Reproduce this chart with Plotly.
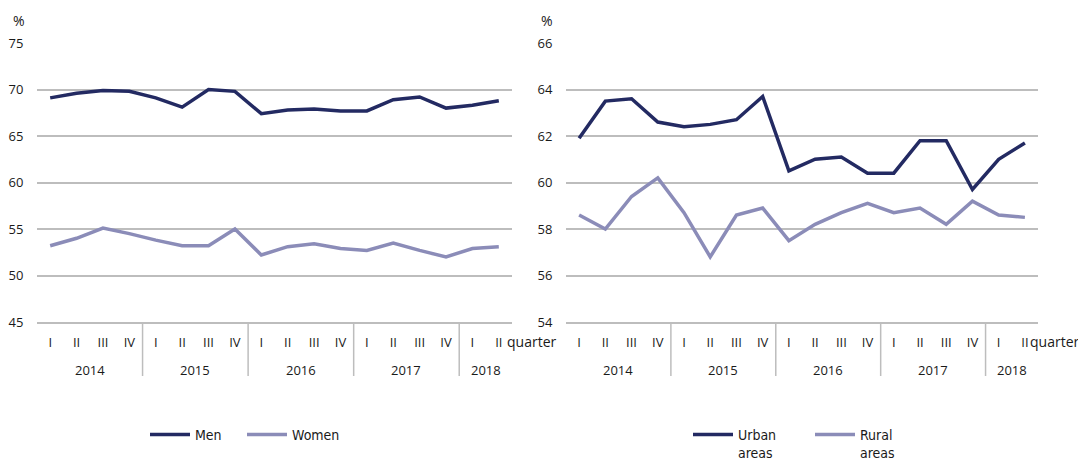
import plotly.graph_objects as go

quarters = ["I", "II", "III", "IV"] * 4 + ["I", "II"]
years = ["2014", "2015", "2016", "2017", "2018"]
year_sizes = [4, 4, 4, 4, 2]

men = [69.1, 69.6, 69.9, 69.8, 69.1, 68.1, 70.0, 69.8, 67.4, 67.8, 67.9, 67.7,
       67.7, 68.9, 69.2, 68.0, 68.3, 68.8]
women = [53.2, 54.0, 55.1, 54.5, 53.8, 53.2, 53.2, 55.0, 52.2, 53.1, 53.4, 52.9,
         52.7, 53.5, 52.7, 52.0, 52.9, 53.1]
urban = [61.9, 63.5, 63.6, 62.6, 62.4, 62.5, 62.7, 63.7, 60.5, 61.0, 61.1, 60.4,
         60.4, 61.8, 61.8, 59.7, 61.0, 61.7]
rural = [58.6, 58.0, 59.4, 60.2, 58.7, 56.8, 58.6, 58.9, 57.5, 58.2, 58.7, 59.1,
         58.7, 58.9, 58.2, 59.2, 58.6, 58.5]

DARK = "#232a62"
LIGHT = "#8b8cb8"
GRID = "#bdbdbd"
TXT = "#1a1a1a"
FONT = "Open Sans"
LEGFONT = "DejaVu Sans Condensed, Open Sans"

# page body has an 8px margin; figure is sized to fit the window
W, H = 1078, 452
OFF = 8


def fx(px):
    return (px - OFF) / W


def fy(py):
    return (H - (py - OFF)) / H


idx = list(range(len(quarters)))

fig = go.Figure()
fig.add_trace(go.Scatter(x=idx, y=men, mode="lines", name="Men",
                         line=dict(color=DARK, width=3.5), xaxis="x", yaxis="y",
                         legend="legend"))
fig.add_trace(go.Scatter(x=idx, y=women, mode="lines", name="Women",
                         line=dict(color=LIGHT, width=3.5), xaxis="x", yaxis="y",
                         legend="legend2"))
fig.add_trace(go.Scatter(x=idx, y=urban, mode="lines", name="Urban<br>areas",
                         line=dict(color=DARK, width=3.5), xaxis="x2", yaxis="y2",
                         legend="legend3"))
fig.add_trace(go.Scatter(x=idx, y=rural, mode="lines", name="Rural<br>areas",
                         line=dict(color=LIGHT, width=3.5), xaxis="x2", yaxis="y2",
                         legend="legend4"))

ydom = [fy(322), fy(43)]
xcommon = dict(range=[-0.5, len(quarters) - 0.5], tickvals=idx, ticktext=quarters,
               showgrid=False, zeroline=False, showline=True, linecolor=GRID,
               linewidth=1.5, ticks="outside", ticklen=8, tickcolor="rgba(0,0,0,0)",
               tickfont=dict(family=FONT, size=13, color=TXT), fixedrange=True,
               automargin=False)
ycommon = dict(showgrid=True, gridcolor=GRID, gridwidth=1.5, zeroline=False,
               showline=False, ticks="outside", ticklen=10, tickcolor="rgba(0,0,0,0)",
               tickfont=dict(family=FONT, size=13, color=TXT), domain=ydom,
               fixedrange=True, automargin=False)


def leg(px):
    return dict(orientation="h", x=fx(px), y=fy(419), xanchor="left", yanchor="top",
                font=dict(family=LEGFONT, size=14, color=TXT), valign="top",
                bgcolor="rgba(0,0,0,0)", itemwidth=40)


fig.update_layout(
    width=W, height=H,
    margin=dict(l=0, r=0, t=0, b=0, autoexpand=False),
    paper_bgcolor="white", plot_bgcolor="white",
    xaxis=dict(domain=[fx(37), fx(512)], anchor="y", **xcommon),
    yaxis=dict(range=[45, 75], tickvals=[45, 50, 55, 60, 65, 70, 75], anchor="x", **ycommon),
    xaxis2=dict(domain=[fx(566), fx(1038)], anchor="y2", **xcommon),
    yaxis2=dict(range=[54, 66], tickvals=[54, 56, 58, 60, 62, 64, 66], anchor="x2", **ycommon),
    legend=leg(145),
    legend2=leg(242),
    legend3=leg(688),
    legend4=leg(810),
    showlegend=True,
)

shapes = []
annotations = []
y_axis_bottom = ydom[0]
sep_bottom = fy(376)
year_label_y = fy(370)
quarter_shift = {"x": -7, "x2": -10}
for xa in ["x", "x2"]:
    start = 0
    for yr, n in zip(years, year_sizes):
        end = start + n
        if end < len(quarters):
            shapes.append(dict(type="line", xref=xa, yref="paper", x0=end - 0.5, x1=end - 0.5,
                               y0=y_axis_bottom, y1=sep_bottom,
                               line=dict(color=GRID, width=1.5)))
        annotations.append(dict(text=yr, xref=xa, yref="paper", x=(start + end - 1) / 2,
                                y=year_label_y, showarrow=False, yanchor="middle",
                                font=dict(family=FONT, size=13, color=TXT)))
        start = end
    annotations.append(dict(text="quarter", xref=xa, yref="paper", x=len(quarters) - 0.5,
                            y=fy(341), xanchor="left", yanchor="middle",
                            xshift=quarter_shift[xa], showarrow=False,
                            font=dict(family=FONT, size=14, color=TXT)))

annotations.append(dict(text="%", xref="paper", yref="paper", x=fx(11), y=fy(21),
                        xanchor="left", yanchor="middle", showarrow=False,
                        font=dict(family=FONT, size=14, color=TXT)))
annotations.append(dict(text="%", xref="paper", yref="paper", x=fx(539), y=fy(21),
                        xanchor="left", yanchor="middle", showarrow=False,
                        font=dict(family=FONT, size=14, color=TXT)))

fig.update_layout(shapes=shapes, annotations=annotations)
fig.write_html("out.html")
